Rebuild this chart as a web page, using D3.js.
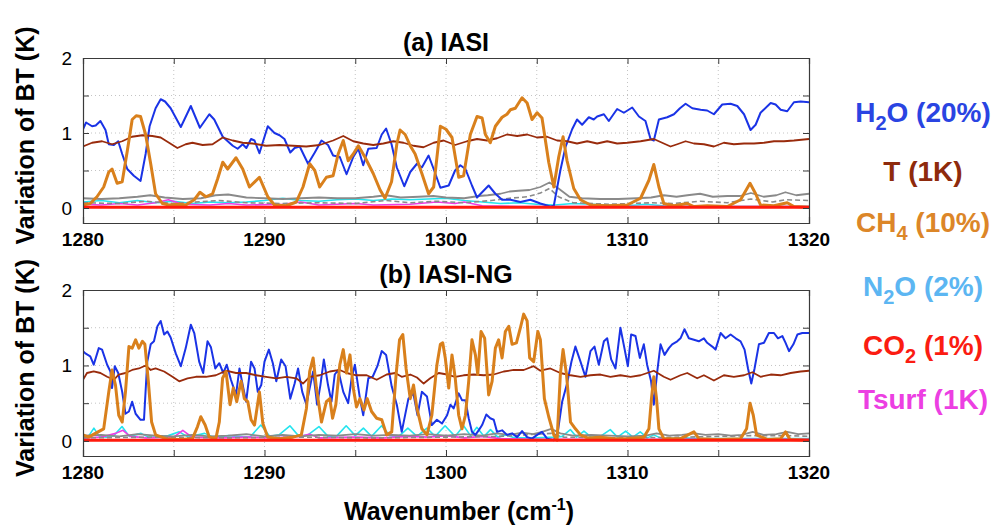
<!DOCTYPE html>
<html>
<head>
<meta charset="utf-8">
<script src="https://cdn.jsdelivr.net/npm/d3@7"></script>
<style>
  body { margin: 0; background: #fff; }
  svg { display: block; font-family: "Liberation Sans", Arial, sans-serif; }
</style>
</head>
<body>
<svg id="chart" width="996" height="525"></svg>
<script>
// values as [wavenumber, variation of BT]
// (a) IASI
var h2oA = [[1280,1.05],[1280.17,1.14],[1280.5,1.09],[1280.7,1.1],[1280.96,1.16],[1281.24,1.04],[1281.42,0.85],[1281.7,0.84],[1281.94,0.89],[1282.16,0.72],[1282.44,0.52],[1282.8,0.43],[1283.17,0.36],[1283.45,0.72],[1283.67,1.09],[1284,1.33],[1284.28,1.45],[1284.52,1.42],[1284.83,1.33],[1285.39,1.08],[1285.94,1.36],[1286.44,1.07],[1286.96,1.25],[1287.23,1.18],[1287.7,0.95],[1288.25,0.83],[1288.52,0.79],[1288.8,0.85],[1289,0.8],[1289.26,0.92],[1289.45,0.9],[1289.72,0.73],[1290.18,1.09],[1290.55,1],[1290.83,0.97],[1291.1,0.92],[1291.42,0.74],[1291.66,0.8],[1291.94,0.82],[1292.4,0.59],[1292.77,0.74],[1293.14,0.9],[1293.5,0.84],[1293.78,0.7],[1294.15,0.68],[1294.52,0.45],[1294.89,0.68],[1295.17,0.79],[1295.44,0.57],[1295.72,0.79],[1296.18,0.8],[1296.46,0.98],[1296.7,1.06],[1297,0.85],[1297.29,0.54],[1297.7,0.29],[1298.03,0.48],[1298.4,0.59],[1298.67,0.54],[1299.04,0.7],[1299.32,0.52],[1299.69,0.27],[1300.15,0.3],[1300.5,0.5],[1300.79,0.57],[1301.07,0.52],[1301.43,0.3],[1301.71,0.14],[1301.99,0.21],[1302.35,0.3],[1302.72,0.19],[1303.09,0.11],[1303.55,0.11],[1304.1,0.08],[1304.65,0.11],[1305.2,0.06],[1305.75,0.02],[1305.94,0.03],[1306.3,0.5],[1306.58,0.81],[1306.95,1.05],[1307.22,1.18],[1307.5,1.11],[1307.87,1.21],[1308.14,1.18],[1308.33,1.22],[1308.7,1.25],[1308.97,1.16],[1309.43,1.32],[1309.8,1.27],[1310.26,1.34],[1310.63,1.22],[1310.99,1.16],[1311.27,0.92],[1311.45,0.9],[1311.73,1.18],[1312.19,1.21],[1312.56,1.25],[1312.89,1.33],[1313.2,1.39],[1313.57,1.33],[1314.03,1.31],[1314.39,1.3],[1314.76,1.25],[1315.22,1.38],[1315.68,1.39],[1316.05,1.36],[1316.42,1.25],[1316.78,1.04],[1317.06,1.11],[1317.33,1.27],[1317.89,1.4],[1318.16,1.38],[1318.44,1.31],[1318.8,1.29],[1319.17,1.41],[1319.54,1.42],[1320,1.41]];
var tA = [[1280,0.82],[1280.5,0.87],[1281.05,0.89],[1281.6,0.85],[1282.16,0.89],[1282.7,0.95],[1283.27,0.97],[1283.82,0.96],[1284.28,0.94],[1284.74,0.87],[1285.2,0.8],[1285.66,0.85],[1286.03,0.87],[1286.59,0.84],[1287.14,0.85],[1287.7,0.94],[1288.25,0.9],[1288.8,0.87],[1289.35,0.86],[1290.09,0.83],[1290.83,0.84],[1291.57,0.83],[1292.3,0.82],[1293.04,0.84],[1293.78,0.9],[1294.34,0.96],[1294.89,0.89],[1295.44,0.86],[1295.99,0.84],[1296.55,0.86],[1297.1,0.89],[1297.66,0.87],[1298.21,0.83],[1298.76,0.81],[1299.32,0.87],[1299.87,0.9],[1300.5,0.84],[1301.16,0.89],[1301.71,0.92],[1302.26,0.9],[1302.81,0.93],[1303.36,0.98],[1303.92,0.96],[1304.47,0.98],[1305.02,0.94],[1305.57,0.95],[1306.12,0.9],[1306.67,0.89],[1307.22,0.86],[1307.78,0.89],[1308.33,0.86],[1308.88,0.89],[1309.43,0.86],[1309.98,0.87],[1310.72,0.89],[1311.45,0.92],[1312,0.86],[1312.37,0.82],[1312.74,0.85],[1313.2,0.89],[1313.66,0.86],[1314.21,0.85],[1314.76,0.82],[1315.31,0.87],[1315.86,0.85],[1316.42,0.86],[1316.97,0.86],[1317.52,0.87],[1318.07,0.89],[1318.62,0.89],[1319.17,0.9],[1320,0.92]];
var ch4A = [[1280,0.04],[1280.4,0.06],[1280.77,0.15],[1281.14,0.28],[1281.42,0.48],[1281.6,0.52],[1281.88,0.33],[1282.16,0.35],[1282.44,0.76],[1282.71,1.18],[1282.93,1.23],[1283.17,1.22],[1283.45,0.98],[1283.73,0.59],[1284,0.19],[1284.37,0.06],[1284.74,0.04],[1285.3,0.05],[1285.66,0.04],[1286.13,0.11],[1286.44,0.21],[1286.77,0.15],[1287.14,0.19],[1287.42,0.39],[1287.7,0.61],[1287.97,0.52],[1288.43,0.67],[1288.8,0.52],[1289.17,0.28],[1289.72,0.41],[1290.18,0.15],[1290.55,0.04],[1291.2,0.03],[1291.75,0.08],[1292.12,0.28],[1292.49,0.59],[1292.77,0.5],[1293.04,0.28],[1293.41,0.41],[1293.78,0.43],[1294.06,0.72],[1294.34,0.9],[1294.61,0.63],[1294.89,0.72],[1295.17,0.83],[1295.53,0.68],[1295.99,0.46],[1296.37,0.24],[1296.64,0.13],[1297,0.35],[1297.29,0.85],[1297.47,1.04],[1297.75,0.98],[1298.03,0.83],[1298.3,0.72],[1298.67,0.46],[1299.04,0.19],[1299.32,0.28],[1299.69,1.09],[1300,1.05],[1300.33,0.94],[1300.7,0.41],[1300.97,0.43],[1301.34,0.98],[1301.71,1.22],[1301.99,1.2],[1302.17,0.98],[1302.44,0.87],[1302.72,1.09],[1303.09,1.21],[1303.36,1.25],[1303.55,1.31],[1303.82,1.33],[1304.19,1.47],[1304.47,1.4],[1304.74,1.18],[1305.02,1.27],[1305.29,1.2],[1305.66,0.61],[1305.94,0.28],[1306.21,0.68],[1306.45,0.95],[1306.67,0.63],[1307.04,0.26],[1307.41,0.11],[1307.96,0.04],[1308.88,0.03],[1309.98,0.04],[1310.72,0.13],[1311.18,0.37],[1311.45,0.58],[1311.73,0.28],[1312,0.06],[1312.56,0.03],[1313.29,0.06],[1313.66,0.02],[1314.39,0.03],[1315.5,0.02],[1316.23,0.11],[1316.75,0.33],[1317.06,0.19],[1317.33,0.04],[1318.07,0.03],[1318.8,0.07],[1319.17,0.02],[1320,0.01]];
var n2oA = [[1280,0.08],[1281,0.1],[1282,0.07],[1283,0.1],[1284,0.07],[1285,0.09],[1286,0.06],[1287,0.08],[1288,0.07],[1289,0.08],[1290,0.1],[1291,0.13],[1292,0.1],[1293,0.09],[1294,0.11],[1295,0.12],[1296,0.1],[1297,0.12],[1298,0.11],[1299,0.12],[1300,0.13],[1301,0.1],[1302,0.08],[1303,0.06],[1304,0.07],[1305,0.05],[1306,0.04],[1307,0.06],[1308,0.05],[1309,0.04],[1310,0.03],[1311,0.05],[1312,0.03],[1313,0.02],[1314,0.03],[1316,0.02],[1318,0.02],[1320,0.02]];
var co2A = [[1280,0.01],[1300,0.01],[1320,0.01]];
var tsurfA = [[1280,0.05],[1281,0.04],[1282,0.06],[1283,0.04],[1284,0.07],[1284.7,0.11],[1285.5,0.05],[1287,0.04],[1288,0.06],[1289,0.04],[1291,0.05],[1292,0.08],[1293,0.04],[1295,0.06],[1296,0.04],[1298,0.05],[1299.5,0.08],[1300.5,0.06],[1301,0.08],[1302,0.03],[1304,0.02],[1310,0.02],[1320,0.02]];
var greyA = [[1280,0.13],[1281,0.12],[1282,0.13],[1283,0.15],[1283.7,0.17],[1284.5,0.14],[1285.5,0.12],[1286.5,0.13],[1287.3,0.17],[1288,0.18],[1289,0.14],[1290,0.13],[1291,0.12],[1292,0.13],[1293,0.14],[1294,0.13],[1295,0.13],[1296,0.15],[1296.7,0.17],[1297.5,0.14],[1298.5,0.15],[1299.3,0.16],[1300,0.14],[1301,0.13],[1301.8,0.16],[1302.3,0.17],[1303,0.19],[1303.5,0.22],[1304,0.23],[1304.6,0.24],[1305.2,0.28],[1305.7,0.34],[1306.2,0.26],[1306.8,0.15],[1307.5,0.13],[1308.5,0.12],[1309.5,0.12],[1310.5,0.13],[1311.3,0.14],[1312,0.17],[1312.7,0.15],[1313.3,0.17],[1314,0.19],[1314.7,0.15],[1315.5,0.16],[1316.2,0.16],[1316.8,0.2],[1317.5,0.15],[1318.2,0.17],[1318.7,0.21],[1319.3,0.17],[1320,0.19]];
var greyDashA = [[1280,0.07],[1282,0.06],[1283.5,0.09],[1285,0.06],[1287.5,0.1],[1289,0.07],[1291,0.06],[1293,0.07],[1295,0.06],[1296.7,0.1],[1298,0.07],[1299.5,0.09],[1301,0.07],[1302.5,0.1],[1303.5,0.13],[1304.5,0.15],[1305.2,0.2],[1305.7,0.26],[1306.2,0.15],[1307,0.07],[1309,0.05],[1311.3,0.07],[1312.5,0.06],[1314,0.09],[1315.5,0.07],[1316.8,0.12],[1318,0.08],[1318.7,0.11],[1320,0.1]];

// (b) IASI-NG
var h2oB = [[1280,1.19],[1280.13,1.16],[1280.4,1.12],[1280.59,1.01],[1280.87,1.23],[1281.05,1.21],[1281.33,1.01],[1281.51,0.92],[1281.6,0.7],[1281.75,0.99],[1281.94,0.9],[1282.16,0.65],[1282.34,0.36],[1282.53,0.39],[1282.71,0.52],[1282.9,0.36],[1283.17,0.28],[1283.36,0.28],[1283.54,1.05],[1283.73,1.28],[1283.91,1.32],[1284.1,1.52],[1284.28,1.59],[1284.47,1.41],[1284.65,1.45],[1284.83,1.37],[1285.11,1.16],[1285.39,0.99],[1285.66,1.23],[1285.94,1.54],[1286.13,1.43],[1286.4,1.05],[1286.62,0.9],[1286.86,1.32],[1287.05,1.24],[1287.29,0.96],[1287.51,1.03],[1287.73,0.9],[1287.92,1.01],[1288.15,0.81],[1288.43,0.61],[1288.62,0.96],[1288.8,0.74],[1288.99,0.52],[1289.26,1.05],[1289.45,0.96],[1289.63,0.65],[1289.82,0.74],[1290,1.05],[1290.24,1.21],[1290.46,1.03],[1290.65,0.79],[1290.92,1.08],[1291.16,0.99],[1291.42,0.56],[1291.66,0.76],[1291.85,0.96],[1292.08,0.65],[1292.31,0.48],[1292.49,0.7],[1292.68,0.92],[1292.9,0.48],[1293.08,0.74],[1293.27,1.08],[1293.5,0.74],[1293.69,0.52],[1293.87,0.88],[1294.06,0.94],[1294.34,0.65],[1294.61,0.5],[1294.8,0.83],[1294.98,1.01],[1295.26,0.56],[1295.44,0.34],[1295.72,0.83],[1295.96,0.85],[1296.22,0.99],[1296.46,1.19],[1296.7,1.14],[1297.01,0.72],[1297.29,0.48],[1297.56,0.12],[1297.93,0.56],[1298.2,0.63],[1298.43,0.34],[1298.67,0.65],[1298.95,0.59],[1299.22,0.21],[1299.5,0.28],[1299.78,0.23],[1300.06,0.34],[1300.24,0.48],[1300.42,0.43],[1300.7,0.63],[1300.88,0.54],[1301.07,0.54],[1301.25,0.3],[1301.43,0.12],[1301.62,0.08],[1301.8,0.14],[1301.99,0.21],[1302.22,0.35],[1302.44,0.3],[1302.63,0.28],[1302.81,0.12],[1303.09,0.14],[1303.36,0.08],[1303.64,0.1],[1303.92,0.05],[1304.19,0.13],[1304.47,0.05],[1304.74,0.03],[1305.02,0.08],[1305.29,0.12],[1305.57,0.03],[1305.94,0.01],[1306.16,0.12],[1306.4,0.52],[1306.67,0.76],[1306.91,1.05],[1307.13,1.25],[1307.41,1.05],[1307.68,0.85],[1307.96,1.19],[1308.18,1.25],[1308.42,1.01],[1308.7,1.32],[1308.88,1.36],[1309.1,1.08],[1309.34,0.96],[1309.61,1.5],[1309.83,1.23],[1310.02,0.99],[1310.2,1.41],[1310.44,1.39],[1310.68,1.1],[1310.9,1.28],[1311.08,1.01],[1311.3,0.79],[1311.45,0.48],[1311.64,0.92],[1311.82,1.28],[1312.04,1.14],[1312.28,1.23],[1312.46,1.28],[1312.74,1.32],[1312.92,1.36],[1313.14,1.48],[1313.38,1.36],[1313.66,1.34],[1313.93,1.32],[1314.21,1.36],[1314.39,1.3],[1314.67,1.25],[1314.85,1.21],[1315.13,1.43],[1315.4,1.36],[1315.68,1.41],[1315.96,1.36],[1316.23,1.32],[1316.45,1.21],[1316.64,0.96],[1316.82,0.76],[1317,0.96],[1317.24,1.28],[1317.52,1.3],[1317.79,1.43],[1318.07,1.43],[1318.29,1.36],[1318.53,1.39],[1318.71,1.3],[1318.9,1.19],[1319.14,1.28],[1319.36,1.41],[1319.63,1.43],[1320,1.43]];
var tB = [[1280,0.81],[1280.22,0.9],[1280.59,0.92],[1280.96,0.9],[1281.33,0.85],[1281.7,0.81],[1281.97,0.88],[1282.34,0.9],[1282.71,0.94],[1283.08,0.96],[1283.45,1],[1283.73,0.94],[1284,0.96],[1284.47,0.92],[1284.93,0.85],[1285.3,0.79],[1285.76,0.83],[1286.22,0.85],[1286.77,0.85],[1287.32,0.87],[1287.88,0.93],[1288.43,0.9],[1288.99,0.9],[1289.54,0.87],[1290.09,0.85],[1290.65,0.83],[1291.2,0.85],[1291.75,0.83],[1292.12,0.76],[1292.49,0.85],[1293.04,0.87],[1293.6,0.92],[1294.15,0.94],[1294.52,0.9],[1295.07,0.87],[1295.63,0.87],[1296.18,0.81],[1296.73,0.88],[1297.2,0.9],[1297.56,0.85],[1298.03,0.88],[1298.4,0.84],[1298.77,0.76],[1299.13,0.83],[1299.6,0.9],[1300.06,0.88],[1300.51,0.85],[1300.97,0.87],[1301.53,0.88],[1302.08,0.87],[1302.63,0.88],[1303.18,0.92],[1303.73,0.94],[1304.28,0.94],[1304.83,0.99],[1305.2,0.93],[1305.75,0.96],[1306.3,0.9],[1306.86,0.87],[1307.41,0.85],[1307.96,0.87],[1308.51,0.88],[1309.06,0.85],[1309.61,0.87],[1310.17,0.85],[1310.72,0.87],[1311.45,0.93],[1312,0.85],[1312.37,0.81],[1312.92,0.87],[1313.29,0.9],[1313.84,0.83],[1314.21,0.87],[1314.76,0.8],[1315.31,0.87],[1315.86,0.85],[1316.42,0.87],[1316.88,0.91],[1317.33,0.85],[1317.89,0.88],[1318.44,0.87],[1318.99,0.9],[1319.54,0.92],[1320,0.93]];
var ch4B = [[1280,0.08],[1280.31,0.05],[1280.68,0.1],[1281.14,0.16],[1281.42,0.65],[1281.6,0.94],[1281.79,0.74],[1281.97,0.34],[1282.16,0.25],[1282.34,0.65],[1282.53,1.25],[1282.71,1.23],[1282.9,1.34],[1283.08,1.23],[1283.27,1.32],[1283.41,1.28],[1283.6,0.79],[1283.78,0.25],[1284,0.08],[1284.56,0.03],[1285.3,0.02],[1286.03,0.03],[1286.31,0.19],[1286.49,0.32],[1286.73,0.21],[1286.96,0.05],[1287.32,0.03],[1287.51,0.25],[1287.69,0.83],[1287.88,0.92],[1288.1,0.48],[1288.28,0.7],[1288.47,0.52],[1288.71,0.79],[1288.89,0.56],[1289.08,0.52],[1289.26,0.28],[1289.45,0.21],[1289.72,0.65],[1289.91,0.23],[1290.18,0.05],[1290.83,0.03],[1291.57,0.05],[1292.03,0.08],[1292.31,0.43],[1292.49,0.92],[1292.68,1.1],[1292.86,0.7],[1293.14,0.25],[1293.41,0.52],[1293.6,0.56],[1293.75,0.3],[1293.93,0.48],[1294.15,1.01],[1294.34,1.21],[1294.52,0.9],[1294.71,1.14],[1294.89,0.7],[1295.07,0.45],[1295.26,0.56],[1295.48,0.41],[1295.66,0.56],[1295.9,0.39],[1296.18,0.3],[1296.46,0.28],[1296.73,0.08],[1297.01,0.12],[1297.25,0.88],[1297.44,1.34],[1297.62,1.41],[1297.8,0.96],[1298.03,0.56],[1298.21,0.74],[1298.4,0.43],[1298.67,0.16],[1298.95,0.08],[1299.22,0.34],[1299.5,1.01],[1299.69,1.28],[1299.82,1.3],[1299.96,1.1],[1300.15,0.7],[1300.33,1.14],[1300.51,0.83],[1300.7,0.34],[1300.88,0.16],[1301.07,0.34],[1301.25,0.79],[1301.43,1.34],[1301.62,1.14],[1301.75,0.88],[1301.93,1.45],[1302.13,1.36],[1302.35,0.61],[1302.54,0.79],[1302.72,1.23],[1302.9,1.34],[1303.09,1.1],[1303.27,1.45],[1303.46,1.52],[1303.64,1.28],[1303.88,1.3],[1304.1,1.5],[1304.28,1.68],[1304.47,1.59],[1304.61,1.1],[1304.83,1.05],[1305.06,1.45],[1305.2,1.34],[1305.42,0.56],[1305.66,0.32],[1305.94,0.08],[1306.12,0.01],[1306.3,0.88],[1306.45,1.21],[1306.64,0.88],[1306.86,0.25],[1307.13,0.16],[1307.41,0.08],[1307.78,0.04],[1308.51,0.05],[1309.25,0.03],[1309.98,0.03],[1310.9,0.05],[1311.18,0.16],[1311.32,0.56],[1311.45,0.85],[1311.6,0.56],[1311.73,0.16],[1312,0.03],[1312.92,0.03],[1313.66,0.12],[1313.93,0.03],[1314.94,0.02],[1316.23,0.03],[1316.56,0.16],[1316.75,0.5],[1316.93,0.34],[1317.11,0.08],[1317.7,0.02],[1318.44,0.03],[1318.71,0.12],[1318.95,0.02],[1320,0.01]];
var n2oB = [[1280,0.05],[1280.3,0.06],[1280.6,0.17],[1280.9,0.06],[1281.3,0.05],[1281.7,0.07],[1282.15,0.19],[1282.55,0.06],[1283.2,0.1],[1283.6,0.05],[1284.3,0.05],[1284.7,0.07],[1285.3,0.12],[1285.8,0.05],[1286.7,0.1],[1287.2,0.05],[1288,0.07],[1288.6,0.06],[1289.2,0.05],[1289.8,0.21],[1290.3,0.06],[1290.8,0.08],[1291.4,0.2],[1291.9,0.06],[1292.4,0.08],[1293,0.19],[1293.5,0.06],[1294,0.07],[1294.5,0.2],[1295,0.07],[1295.45,0.17],[1295.9,0.06],[1296.45,0.2],[1296.9,0.07],[1297.4,0.06],[1297.9,0.17],[1298.4,0.06],[1298.95,0.17],[1299.4,0.06],[1299.95,0.2],[1300.5,0.06],[1300.97,0.2],[1301.35,0.07],[1301.7,0.18],[1302.1,0.06],[1302.45,0.15],[1302.85,0.05],[1303.3,0.08],[1303.8,0.04],[1305,0.04],[1306,0.05],[1306.4,0.06],[1306.85,0.15],[1307.2,0.05],[1307.6,0.13],[1308,0.05],[1308.5,0.06],[1309.05,0.15],[1309.45,0.05],[1309.9,0.13],[1310.3,0.05],[1310.7,0.12],[1311.1,0.04],[1311.45,0.08],[1311.9,0.03],[1313,0.04],[1314,0.03],[1316,0.03],[1318,0.03],[1320,0.03]];
var co2B = [[1280,0.01],[1300,0.01],[1320,0.01]];
var tsurfB = [[1280,0.04],[1281,0.05],[1281.8,0.1],[1282.2,0.14],[1282.6,0.06],[1283.5,0.04],[1285,0.05],[1285.5,0.14],[1286,0.05],[1287.5,0.04],[1289,0.05],[1290.5,0.04],[1292,0.06],[1292.5,0.09],[1293,0.04],[1295,0.05],[1296.5,0.04],[1298,0.06],[1299,0.05],[1300,0.07],[1301,0.04],[1302,0.06],[1303,0.03],[1305,0.02],[1320,0.02]];
var greyB = [[1280,0.07],[1281,0.08],[1282,0.06],[1283,0.09],[1284,0.07],[1285,0.06],[1286,0.08],[1287,0.06],[1288,0.07],[1289,0.09],[1290,0.06],[1291,0.08],[1292,0.06],[1293,0.08],[1294,0.07],[1295,0.09],[1296,0.07],[1297,0.08],[1298,0.07],[1299,0.09],[1300,0.07],[1301,0.09],[1302,0.07],[1302.8,0.1],[1303.5,0.08],[1304.2,0.11],[1304.8,0.09],[1305.3,0.12],[1305.8,0.16],[1306.3,0.1],[1307,0.07],[1308,0.08],[1309,0.07],[1310,0.06],[1311,0.07],[1311.6,0.1],[1312.3,0.07],[1313,0.08],[1313.7,0.1],[1314.3,0.08],[1315,0.09],[1315.7,0.07],[1316.3,0.08],[1316.9,0.12],[1317.5,0.08],[1318.2,0.09],[1318.8,0.12],[1319.4,0.09],[1320,0.1]];
var greyDashB = [[1280,0.04],[1284,0.05],[1288,0.04],[1292,0.05],[1296,0.04],[1300,0.05],[1303,0.06],[1305.8,0.1],[1306.5,0.05],[1310,0.04],[1313,0.05],[1316.9,0.07],[1318.8,0.07],[1320,0.06]];

var xTicks = [1280, 1290, 1300, 1310, 1320];
var xMinor = [1285, 1295, 1305, 1315];
var yTicks = [0, 1, 2];
var yGrid = [0.5, 1, 1.5];

// legend: [main, subscript, rest]
var legendText = [["H", "2", "O (20%)"], ["T (1K)", "", ""], ["CH", "4", " (10%)"], ["N", "2", "O (2%)"], ["CO", "2", " (1%)"], ["Tsurf (1K)", "", ""]];
var legendColors = ["#2a44e2", "#8e2a0c", "#dc8628", "#5cb6f2", "#fb1c12", "#ec3fe2"];

var svg = d3.select("#chart");

var x = d3.scaleLinear().domain([1280, 1320]).range([83, 809]);

var panels = [
  { title: "(a) IASI", top: 58, bottom: 223, tickY: 246,
    lines: [[n2oA, "#24e4ee", 1.6, null], [tsurfA, "#f03ce6", 1.6, null], [greyDashA, "#8a8a8a", 1.6, "5,3"], [greyA, "#8a8a8a", 1.8, null],
            [h2oA, "#1a33e6", 2, null], [tA, "#992b0c", 1.8, null], [ch4A, "#d9801c", 3, null], [co2A, "#ff1a0d", 3, null]] },
  { title: "(b) IASI-NG", top: 290, bottom: 456, tickY: 479,
    lines: [[n2oB, "#24e4ee", 1.6, null], [tsurfB, "#f03ce6", 1.6, null], [greyDashB, "#8a8a8a", 1.6, "5,3"], [greyB, "#8a8a8a", 1.8, null],
            [h2oB, "#1a33e6", 2, null], [tB, "#992b0c", 1.8, null], [ch4B, "#d9801c", 3, null], [co2B, "#ff1a0d", 3, null]] }
];

panels.forEach(function(p, i) {
  var y = d3.scaleLinear().domain([-0.2, 2]).range([p.bottom, p.top]);
  var g = svg.append("g");

  // dotted grid
  g.selectAll(".gx").data(xMinor.concat(xTicks.slice(1, -1)))
    .enter().append("line")
    .attr("x1", function(d) { return x(d); }).attr("x2", function(d) { return x(d); })
    .attr("y1", p.top).attr("y2", p.bottom)
    .attr("stroke", "#c4c4c4").attr("stroke-width", 1).attr("stroke-dasharray", "1,3");
  g.selectAll(".gy").data(yGrid)
    .enter().append("line")
    .attr("x1", x.range()[0]).attr("x2", x.range()[1])
    .attr("y1", function(d) { return y(d); }).attr("y2", function(d) { return y(d); })
    .attr("stroke", "#c4c4c4").attr("stroke-width", 1).attr("stroke-dasharray", "1,3");

  // series
  var line = d3.line().x(function(d) { return x(d[0]); }).y(function(d) { return y(d[1]); });
  var clipId = "clip" + i;
  svg.append("clipPath").attr("id", clipId).append("rect")
    .attr("x", x.range()[0]).attr("y", p.top).attr("width", x.range()[1] - x.range()[0]).attr("height", p.bottom - p.top);
  var lg = g.append("g").attr("clip-path", "url(#" + clipId + ")");
  p.lines.forEach(function(s) {
    lg.append("path").datum(s[0])
      .attr("d", line)
      .attr("fill", "none")
      .attr("stroke", s[1])
      .attr("stroke-width", s[2])
      .attr("stroke-linejoin", "round")
      .attr("stroke-dasharray", s[3]);
  });

  // axes with inward ticks, box style
  var bottomAx = d3.axisBottom(x).tickValues(xTicks.concat(xMinor)).tickSize(-6).tickFormat("");
  var topAx = d3.axisTop(x).tickValues(xTicks.concat(xMinor)).tickSize(-6).tickFormat("");
  var leftAx = d3.axisLeft(y).tickValues([0, 0.5, 1, 1.5, 2]).tickSize(-6).tickFormat("");
  var rightAx = d3.axisRight(y).tickValues([0, 0.5, 1, 1.5, 2]).tickSize(-6).tickFormat("");
  [[bottomAx, "translate(0," + p.bottom + ")"], [topAx, "translate(0," + p.top + ")"],
   [leftAx, "translate(" + x.range()[0] + ",0)"], [rightAx, "translate(" + x.range()[1] + ",0)"]].forEach(function(a) {
    var ax = g.append("g").attr("transform", a[1]).call(a[0]);
    ax.select(".domain").attr("stroke", "#3a3a3a").attr("stroke-width", 1.2);
    ax.selectAll(".tick line").attr("stroke", "#3a3a3a");
  });

  // tick labels
  g.selectAll(".xl").data(xTicks).enter().append("text")
    .attr("x", function(d) { return x(d); }).attr("y", p.tickY)
    .attr("text-anchor", "middle").attr("font-size", 19).attr("font-weight", "bold")
    .text(function(d) { return d; });
  g.selectAll(".yl").data(yTicks).enter().append("text")
    .attr("x", 72).attr("y", function(d) { return y(d); }).attr("dy", "0.36em")
    .attr("text-anchor", "end").attr("font-size", 19)
    .text(function(d) { return d; });

  // title
  g.append("text").attr("x", 446).attr("y", p.top - 7)
    .attr("text-anchor", "middle").attr("font-size", 25).attr("font-weight", "bold")
    .text(p.title);

  // y label
  g.append("text")
    .attr("transform", "translate(34," + ((p.top + p.bottom) / 2 - 5) + ") rotate(-90)")
    .attr("text-anchor", "middle").attr("font-size", 25).attr("font-weight", "bold")
    .text("Variation of BT (K)");
});

// x label with superscript
var xl = svg.append("text").attr("x", 459).attr("y", 520)
  .attr("text-anchor", "middle").attr("font-size", 25).attr("font-weight", "bold");
xl.append("tspan").text("Wavenumber (cm");
xl.append("tspan").attr("font-size", 16).attr("dy", -10).text("-1");
xl.append("tspan").attr("dy", 10).text(")");

// legend
var legendY = [122, 181, 232, 296, 355, 409];
legendText.forEach(function(t, i) {
  var tx = svg.append("text").attr("x", 923).attr("y", legendY[i])
    .attr("text-anchor", "middle").attr("font-size", 28).attr("font-weight", "bold")
    .attr("fill", legendColors[i]);
  tx.append("tspan").text(t[0]);
  if (t[1]) {
    tx.append("tspan").attr("font-size", 20).attr("dy", 8).text(t[1]);
    tx.append("tspan").attr("dy", -8).text(t[2]);
  }
});
</script>
</body>
</html>
